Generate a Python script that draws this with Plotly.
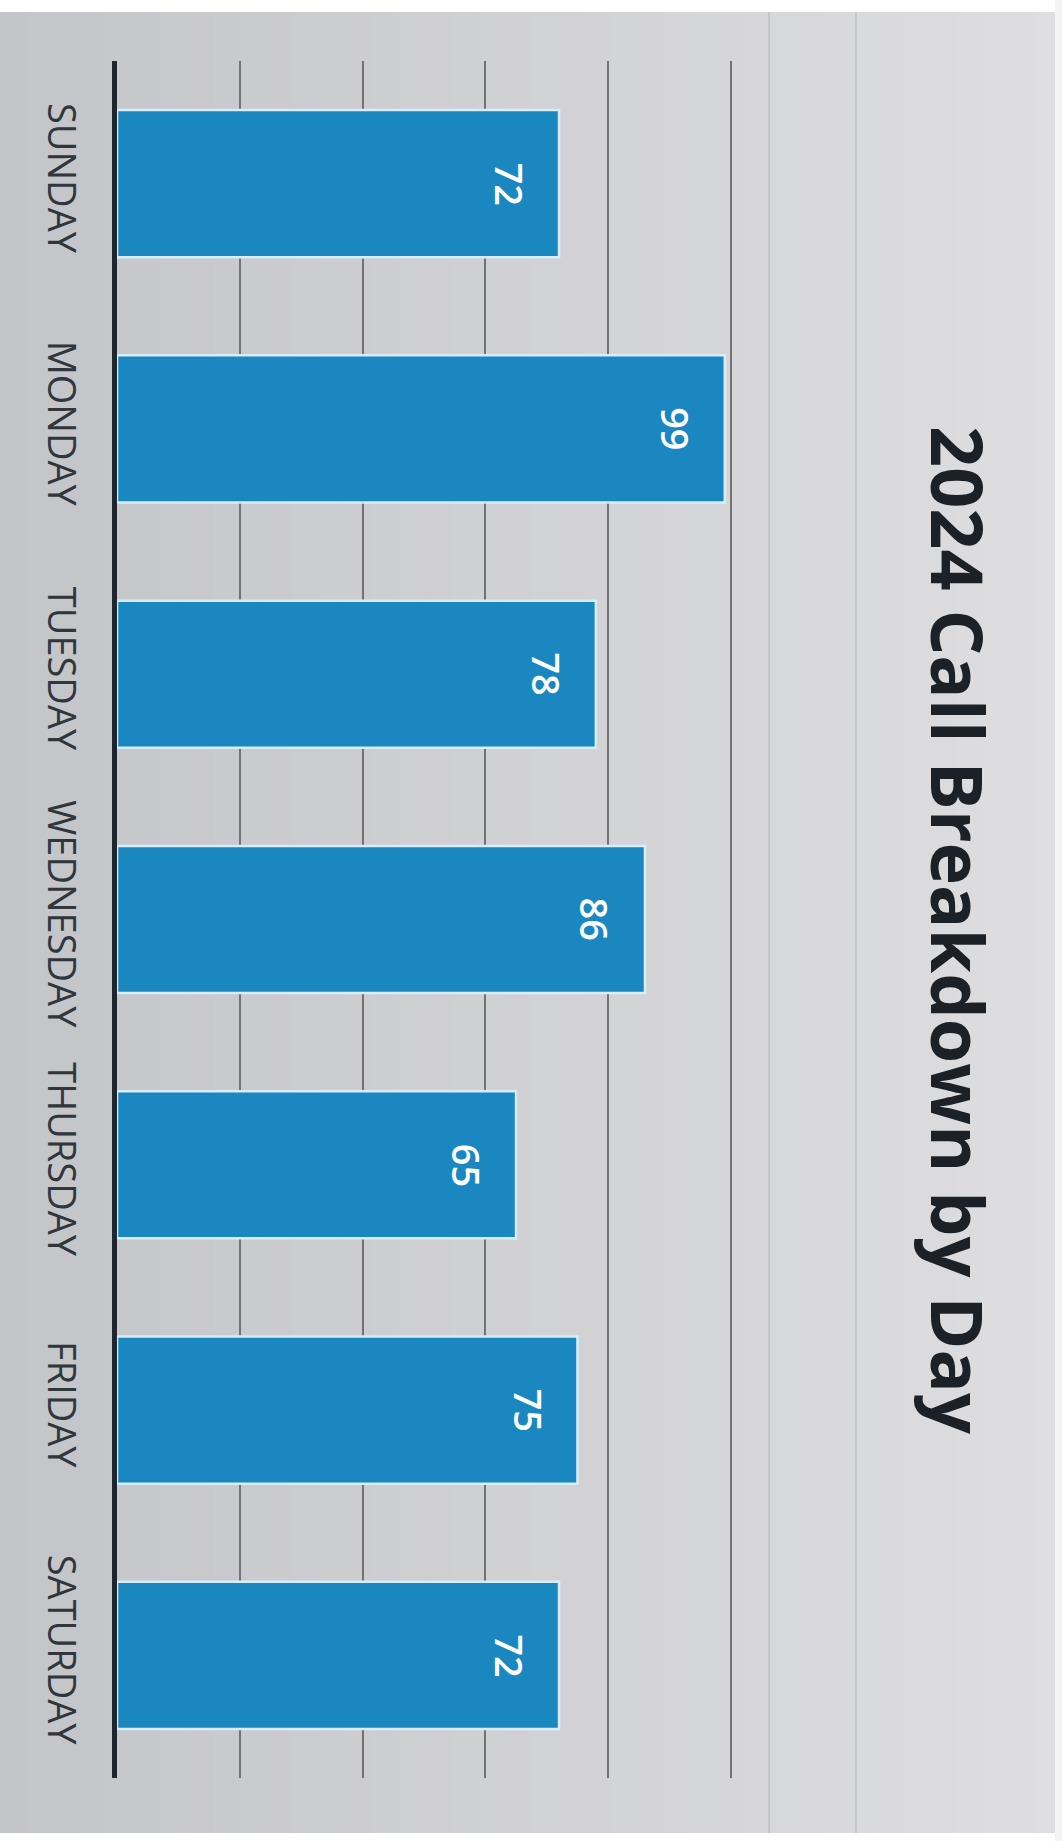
import plotly.graph_objects as go

# ---- data ----
days = ["SUNDAY", "MONDAY", "TUESDAY", "WEDNESDAY", "THURSDAY", "FRIDAY", "SATURDAY"]
calls = [72, 99, 78, 86, 65, 75, 72]
title_text = "2024 Call Breakdown by Day"

W, H = 1062, 1841
L, R, T, B = 117, 328, 61, 63
pw = W - L - R
ph = H - T - B

def px_to_paper_x(px):
    return (px - L) / pw

def px_to_paper_y(py):
    return 1 - (py - T) / ph

fig = go.Figure()
fig.add_trace(go.Bar(
    y=days, x=calls, orientation="h",
    marker=dict(color="#1a87c0", line=dict(color="#d4eefa", width=2.5)),
    width=0.6,
    hoverinfo="skip",
))

shapes = []
# scanned-page background: horizontal gray gradient
n = 40
c0 = (196, 197, 200)
c1 = (222, 222, 224)
for i in range(n):
    t = i / (n - 1)
    col = tuple(int(round(c0[k] + (c1[k] - c0[k]) * t)) for k in range(3))
    x0 = i * W / n
    x1 = (i + 1) * W / n + 1
    shapes.append(dict(type="rect", xref="paper", yref="paper",
                       x0=px_to_paper_x(x0), x1=px_to_paper_x(x1),
                       y0=px_to_paper_y(12), y1=px_to_paper_y(1833),
                       fillcolor="rgb(%d,%d,%d)" % col, line=dict(width=0), layer="below"))
# page edge strip
shapes.append(dict(type="rect", xref="paper", yref="paper",
                   x0=px_to_paper_x(1055), x1=px_to_paper_x(W + 5),
                   y0=px_to_paper_y(-5), y1=px_to_paper_y(H + 5),
                   fillcolor="#f4f4f4", line=dict(width=0), layer="below"))
# faint scan lines
for lx in (769, 856):
    shapes.append(dict(type="line", xref="paper", yref="paper",
                       x0=px_to_paper_x(lx), x1=px_to_paper_x(lx),
                       y0=px_to_paper_y(12), y1=px_to_paper_y(1833),
                       line=dict(color="#b4b4b6", width=1), layer="below"))

annotations = []
for d, v in zip(days, calls):
    annotations.append(dict(x=v, y=d, xref="x", yref="y", text=str(v),
                            showarrow=False, textangle=90, xshift=-49,
                            xanchor="center", yanchor="middle",
                            font=dict(family="Open Sans", size=38, color="white", weight=600)))
annotations.append(dict(x=px_to_paper_x(959), y=px_to_paper_y(930), xref="paper", yref="paper",
                        text=title_text, showarrow=False, textangle=90,
                        xanchor="center", yanchor="middle",
                        font=dict(family="Open Sans", size=72, color="#1c2127", weight=700)))

fig.update_layout(
    width=W, height=H,
    margin=dict(l=L, r=R, t=T, b=B, pad=0),
    paper_bgcolor="#ffffff",
    plot_bgcolor="rgba(0,0,0,0)",
    showlegend=False,
    bargap=0.4,
    shapes=shapes,
    annotations=annotations,
    xaxis=dict(range=[0, 100.5], showgrid=True, gridcolor="#727272", gridwidth=1.5,
               dtick=20, tick0=0, showticklabels=False, zeroline=False, showline=False,
               fixedrange=True),
    yaxis=dict(autorange="reversed", showgrid=False, showline=True, linecolor="#1f2630",
               linewidth=5, tickangle=90, ticks="", ticklabelstandoff=18,
               tickfont=dict(family="Open Sans", size=38, color="#30363c"),
               fixedrange=True),
)

fig.write_html("out.html", config={"displayModeBar": False},
               post_script="document.body.style.margin='0px';")
